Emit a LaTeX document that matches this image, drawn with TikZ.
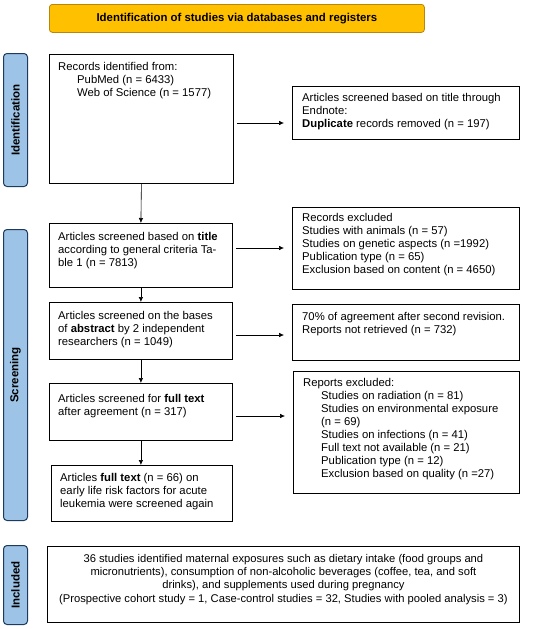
\documentclass[tikz,border=0pt]{standalone}
\usepackage{fontspec}
\setmainfont{Liberation Sans}
\usetikzlibrary{arrows.meta}
\definecolor{bannerfill}{HTML}{FFC000}
\definecolor{bannerdraw}{HTML}{B8860B}
\definecolor{sidefill}{HTML}{9DC3E6}
\definecolor{sidedraw}{HTML}{1F3B5C}
\tikzset{
  box/.style={draw=black, line width=0.8pt, anchor=north west, inner sep=0pt},
  txt/.style={anchor=north west, inner sep=0pt, align=left, font=\fontsize{11.3}{13}\selectfont},
  side/.style={draw=sidedraw, fill=sidefill, line width=1pt, rounded corners=3.5pt, anchor=north west, inner sep=0pt},
  sidetxt/.style={rotate=90, font=\bfseries\fontsize{11.5}{13}\selectfont},
  arr/.style={-{Latex[length=5pt,width=4.5pt]}, line width=0.6pt},
  harr/.style={arr, shorten <=3pt, shorten >=8pt},
}
\begin{document}
\begin{tikzpicture}[x=1pt,y=-1pt]
\useasboundingbox (0,0) rectangle (550,629);
% banner
\node[draw=bannerdraw, fill=bannerfill, line width=0.8pt, rounded corners=3pt, minimum width=375pt, minimum height=28pt, anchor=north west, inner sep=0pt] (ban) at (49,4) {};
\node[font=\bfseries\fontsize{11.4}{13}\selectfont] (bant) at (ban.center) {Identification of studies via databases and registers};
% side labels
\node[side, minimum width=24pt, minimum height=133pt] (sid) at (3,53) {};
\node[sidetxt] (sidt) at (sid.center) {Identification};
\node[side, minimum width=24pt, minimum height=291pt] (sscr) at (3,229) {};
\node[sidetxt] (sscrt) at (sscr.center) {Screening};
\node[side, minimum width=24pt, minimum height=79pt] (sinc) at (3,545) {};
\node[sidetxt] (sinct) at (sinc.center) {Included};
% left column
\node[box, minimum width=184pt, minimum height=129pt] (b1) at (49,54) {};
\node[txt] (b1t) at (58,62) {Records identified from:\\\hspace*{19pt}PubMed (n = 6433)\\\hspace*{19pt}Web of Science (n = 1577)};
\node[box, minimum width=183pt, minimum height=64pt] (b2) at (49,223) {};
\node[txt] (b2t) at (58,232) {Articles screened based on \textbf{title}\\according to general criteria Ta-\\ble 1 (n = 7813)};
\node[box, minimum width=183pt, minimum height=57pt] (b3) at (49,302) {};
\node[txt] (b3t) at (58,311) {Articles screened on the bases\\of \textbf{abstract} by 2 independent\\researchers (n = 1049)};
\node[box, minimum width=183pt, minimum height=57pt] (b4) at (49,383) {};
\node[txt] (b4t) at (58,394) {Articles screened for \textbf{full text}\\after agreement (n = 317)};
\node[box, minimum width=181pt, minimum height=56pt] (b5) at (51,465) {};
\node[txt] (b5t) at (60,473) {Articles \textbf{full text} (n = 66) on\\early life risk factors for acute\\leukemia were screened again};
% right column
\node[box, minimum width=227pt, minimum height=53pt] (r1) at (292,86) {};
\node[txt] (r1t) at (302,93) {Articles screened based on title through\\Endnote:\\\textbf{Duplicate} records removed (n = 197)};
\node[box, minimum width=227pt, minimum height=82pt] (r2) at (292,207) {};
\node[txt] (r2t) at (302,213) {Records excluded\\Studies with animals (n = 57)\\Studies on genetic aspects (n =1992)\\Publication type (n = 65)\\Exclusion based on content (n = 4650)};
\node[box, minimum width=227pt, minimum height=56pt] (r3) at (292,304) {};
\node[txt] (r3t) at (302,312) {70\% of agreement after second revision.\\Reports not retrieved (n = 732)};
\node[box, minimum width=226pt, minimum height=122pt] (r4) at (293,371) {};
\node[txt] (r4t) at (303,378) {Reports excluded:\\\hspace*{18pt}Studies on radiation (n = 81)\\\hspace*{18pt}Studies on environmental exposure\\\hspace*{18pt}(n = 69)\\\hspace*{18pt}Studies on infections (n = 41)\\\hspace*{18pt}Full text not available (n = 21)\\\hspace*{18pt}Publication type (n = 12)\\\hspace*{18pt}Exclusion based on quality (n =27)};
% included
\node[box, minimum width=472pt, minimum height=76pt] (inc) at (47,546) {};
\node[anchor=north, align=center, inner sep=0pt, font=\fontsize{11.2}{13.3}\selectfont] (inct) at (inc.north |- 0,554) {36 studies identified maternal exposures such as dietary intake (food groups and\\micronutrients), consumption of non-alcoholic beverages (coffee, tea, and soft\\drinks), and supplements used during pregnancy\\(Prospective cohort study = 1, Case-control studies = 32, Studies with pooled analysis = 3)};
% arrow levels
\coordinate (h1) at (0,123);
\coordinate (h2) at (0,248);
\coordinate (h3) at (0,335);
\coordinate (h4) at (0,416);
% arrows
\draw[arr] (b1.south) -- (b2.north);
\draw[arr] (b2.south) -- (b3.north);
\draw[arr] (b3.south) -- (b4.north);
\draw[arr] (b4.south) -- (b4.south |- b5.north);
\draw[harr] (b1.east |- h1) -- (r1.west |- h1);
\draw[harr] (b2.east |- h2) -- (r2.west |- h2);
\draw[harr] (b3.east |- h3) -- (r3.west |- h3);
\draw[harr] (b4.east |- h4) -- (r4.west |- h4);
\end{tikzpicture}
\end{document}
